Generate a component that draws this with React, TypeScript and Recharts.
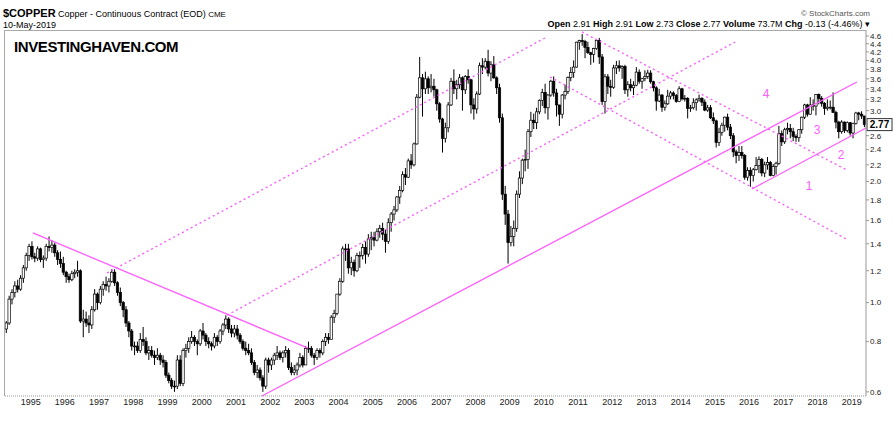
import React from 'react';
import { ComposedChart, Bar, XAxis, YAxis, ReferenceLine } from 'recharts';

// monthly candles, Apr 1994 .. May 2019
const opens = [
  0.86, 0.89, 1.02, 1.06, 1.10, 1.08, 1.15, 1.22, 1.31,
  1.38, 1.30, 1.29, 1.36, 1.28, 1.29, 1.38, 1.37, 1.39, 1.33, 1.28, 1.25,
  1.19, 1.16, 1.14, 1.18, 1.19, 1.20, 0.90, 0.91, 0.89, 0.88, 0.96, 1.05,
  1.00, 1.08, 1.11, 1.10, 1.13, 1.19, 1.12, 1.06, 1.00, 0.96, 0.89, 0.85,
  0.78, 0.78, 0.76, 0.81, 0.80, 0.75, 0.76, 0.74, 0.73, 0.74, 0.72, 0.71,
  0.66, 0.64, 0.62, 0.62, 0.72, 0.63, 0.76, 0.77, 0.80, 0.82, 0.80, 0.79,
  0.85, 0.83, 0.80, 0.79, 0.78, 0.82, 0.80, 0.85, 0.88, 0.91, 0.86, 0.84,
  0.86, 0.83, 0.80, 0.77, 0.76, 0.75, 0.71, 0.67, 0.68, 0.65, 0.62, 0.72,
  0.70, 0.72, 0.74, 0.75, 0.73, 0.75, 0.76, 0.69, 0.67, 0.68, 0.70, 0.73,
  0.70, 0.77, 0.77, 0.74, 0.73, 0.76, 0.75, 0.80, 0.82, 0.81, 0.92, 0.94,
  1.05, 1.13, 1.36, 1.36, 1.22, 1.26, 1.20, 1.31, 1.31, 1.37, 1.32, 1.44,
  1.45, 1.43, 1.50, 1.53, 1.48, 1.42, 1.58, 1.66, 1.70, 1.83, 1.90, 2.08,
  2.05, 2.25, 2.20, 2.48, 3.24, 3.62, 3.40, 3.60, 3.42, 3.45, 3.38, 3.12,
  2.86, 2.56, 2.72, 3.10, 3.55, 3.40, 3.48, 3.62, 3.38, 3.65, 3.58, 3.10,
  3.03, 3.30, 3.88, 3.85, 3.98, 3.72, 3.90, 3.62, 3.42, 2.88, 1.86, 1.66,
  1.41, 1.46, 1.53, 1.86, 2.04, 2.26, 2.27, 2.66, 2.84, 2.80, 2.98, 3.18,
  3.33, 3.05, 3.28, 3.55, 3.32, 3.10, 2.94, 3.28, 3.35, 3.63, 3.73, 3.85,
  4.44, 4.48, 4.46, 4.31, 4.18, 4.14, 4.28, 4.48, 4.08, 3.16, 3.64, 3.45,
  3.43, 3.83, 3.88, 3.83, 3.86, 3.38, 3.48, 3.42, 3.47, 3.74, 3.55, 3.61,
  3.65, 3.72, 3.54, 3.42, 3.17, 3.28, 3.06, 3.12, 3.26, 3.32, 3.27, 3.16,
  3.40, 3.21, 3.22, 3.04, 3.05, 3.14, 3.19, 3.22, 3.15, 3.01, 3.05, 2.88,
  2.83, 2.50, 2.65, 2.76, 2.89, 2.73, 2.60, 2.37, 2.32, 2.36, 2.32, 2.05,
  2.13, 2.07, 2.14, 2.19, 2.27, 2.10, 2.20, 2.23, 2.07, 2.18, 2.22, 2.63,
  2.51, 2.69, 2.71, 2.66, 2.59, 2.57, 2.69, 2.89, 3.10, 2.94, 3.10, 3.08,
  3.29, 3.22, 3.13, 3.04, 3.06, 3.06, 2.97, 2.81, 2.66, 2.81, 2.68, 2.80,
  2.64, 2.79, 2.96, 2.94, 2.91,
];

const highs = [
  0.90, 1.04, 1.08, 1.13, 1.14, 1.17, 1.24, 1.33, 1.40,
  1.42, 1.33, 1.38, 1.37, 1.31, 1.40, 1.46, 1.43, 1.41, 1.35, 1.34, 1.30,
  1.20, 1.18, 1.20, 1.21, 1.27, 1.21, 0.96, 0.95, 0.93, 0.98, 1.08, 1.06,
  1.10, 1.13, 1.16, 1.15, 1.21, 1.21, 1.13, 1.09, 1.01, 0.98, 0.90, 0.86,
  0.80, 0.80, 0.84, 0.87, 0.82, 0.78, 0.78, 0.76, 0.77, 0.75, 0.74, 0.72,
  0.67, 0.65, 0.64, 0.74, 0.74, 0.77, 0.79, 0.82, 0.85, 0.83, 0.81, 0.86,
  0.89, 0.84, 0.82, 0.80, 0.84, 0.83, 0.86, 0.89, 0.93, 0.92, 0.88, 0.88,
  0.88, 0.84, 0.81, 0.80, 0.79, 0.77, 0.72, 0.70, 0.69, 0.66, 0.73, 0.73,
  0.73, 0.75, 0.78, 0.76, 0.76, 0.78, 0.77, 0.71, 0.70, 0.71, 0.75, 0.74,
  0.78, 0.80, 0.78, 0.75, 0.77, 0.77, 0.81, 0.84, 0.84, 0.93, 0.96, 1.05,
  1.15, 1.38, 1.40, 1.40, 1.30, 1.28, 1.33, 1.34, 1.40, 1.42, 1.48, 1.50,
  1.50, 1.53, 1.56, 1.58, 1.52, 1.62, 1.68, 1.74, 1.84, 1.95, 2.12, 2.16,
  2.28, 2.34, 2.50, 3.30, 4.08, 3.70, 3.75, 3.65, 3.70, 3.60, 3.40, 3.15,
  2.88, 2.80, 3.15, 3.62, 3.80, 3.58, 3.70, 3.65, 3.68, 3.80, 3.60, 3.22,
  3.35, 3.95, 4.05, 4.05, 4.25, 3.98, 4.10, 3.65, 3.50, 2.95, 1.95, 1.70,
  1.55, 1.60, 1.90, 2.12, 2.28, 2.40, 2.70, 2.98, 2.95, 3.05, 3.20, 3.40,
  3.50, 3.30, 3.58, 3.65, 3.40, 3.10, 3.30, 3.48, 3.65, 3.85, 4.00, 4.45,
  4.50, 4.65, 4.50, 4.45, 4.20, 4.30, 4.52, 4.55, 4.15, 3.70, 3.70, 3.58,
  3.90, 3.99, 4.00, 3.89, 3.90, 3.55, 3.60, 3.55, 3.85, 3.80, 3.62, 3.78,
  3.79, 3.78, 3.56, 3.45, 3.40, 3.30, 3.18, 3.38, 3.36, 3.35, 3.30, 3.45,
  3.42, 3.28, 3.24, 3.10, 3.22, 3.22, 3.29, 3.24, 3.20, 3.10, 3.10, 2.97,
  2.85, 2.72, 2.80, 2.90, 2.95, 2.78, 2.64, 2.40, 2.45, 2.45, 2.34, 2.17,
  2.17, 2.16, 2.30, 2.31, 2.29, 2.24, 2.30, 2.25, 2.21, 2.24, 2.75, 2.68,
  2.72, 2.80, 2.78, 2.72, 2.62, 2.70, 2.90, 3.12, 3.12, 3.24, 3.20, 3.30,
  3.31, 3.26, 3.15, 3.20, 3.18, 3.33, 3.00, 2.83, 2.84, 2.82, 2.82, 2.81,
  2.80, 2.98, 2.98, 2.99, 2.91,
];

const lows = [
  0.84, 0.88, 0.99, 1.03, 1.06, 1.07, 1.12, 1.20, 1.27,
  1.28, 1.26, 1.27, 1.26, 1.22, 1.27, 1.34, 1.33, 1.30, 1.24, 1.22, 1.17,
  1.12, 1.12, 1.13, 1.15, 1.16, 0.89, 0.82, 0.87, 0.84, 0.86, 0.95, 0.96,
  0.99, 1.04, 1.07, 1.06, 1.12, 1.10, 1.04, 0.98, 0.92, 0.87, 0.82, 0.76,
  0.74, 0.75, 0.75, 0.78, 0.74, 0.72, 0.73, 0.70, 0.72, 0.70, 0.69, 0.65,
  0.63, 0.61, 0.60, 0.61, 0.62, 0.62, 0.73, 0.75, 0.79, 0.78, 0.74, 0.78,
  0.81, 0.78, 0.77, 0.76, 0.77, 0.78, 0.79, 0.83, 0.86, 0.84, 0.82, 0.82,
  0.81, 0.79, 0.76, 0.74, 0.74, 0.70, 0.66, 0.65, 0.64, 0.60, 0.61, 0.67,
  0.68, 0.70, 0.72, 0.72, 0.71, 0.73, 0.68, 0.66, 0.66, 0.66, 0.69, 0.69,
  0.70, 0.75, 0.73, 0.70, 0.72, 0.73, 0.74, 0.78, 0.79, 0.81, 0.89, 0.93,
  1.04, 1.12, 1.27, 1.18, 1.17, 1.16, 1.19, 1.22, 1.28, 1.25, 1.30, 1.35,
  1.38, 1.42, 1.45, 1.43, 1.33, 1.40, 1.50, 1.60, 1.68, 1.76, 1.88, 1.96,
  2.04, 2.15, 2.18, 2.47, 3.22, 2.90, 3.30, 3.30, 3.33, 3.25, 3.00, 2.80,
  2.36, 2.50, 2.65, 3.08, 3.30, 3.20, 3.40, 3.00, 3.30, 3.50, 2.95, 2.85,
  2.95, 3.28, 3.70, 3.80, 3.65, 3.55, 3.60, 3.30, 2.80, 1.80, 1.56, 1.25,
  1.38, 1.38, 1.50, 1.82, 1.97, 2.12, 2.15, 2.58, 2.70, 2.70, 2.94, 3.08,
  2.95, 2.85, 3.25, 3.25, 2.90, 2.75, 2.87, 3.20, 3.30, 3.55, 3.62, 3.84,
  4.25, 4.35, 4.05, 4.15, 3.90, 3.95, 4.25, 3.92, 3.10, 2.95, 3.30, 3.25,
  3.40, 3.70, 3.75, 3.60, 3.30, 3.25, 3.35, 3.28, 3.45, 3.50, 3.40, 3.55,
  3.60, 3.50, 3.35, 3.00, 3.15, 2.98, 3.00, 3.10, 3.20, 3.20, 3.14, 3.15,
  3.18, 3.16, 2.87, 2.98, 3.02, 3.00, 3.16, 3.08, 2.99, 2.98, 2.86, 2.78,
  2.43, 2.45, 2.60, 2.66, 2.68, 2.55, 2.30, 2.22, 2.25, 2.28, 2.02, 2.01,
  1.94, 2.00, 2.13, 2.10, 2.06, 2.05, 2.14, 2.06, 2.06, 2.08, 2.20, 2.45,
  2.48, 2.62, 2.56, 2.52, 2.51, 2.51, 2.63, 2.86, 2.90, 2.93, 3.00, 2.92,
  3.11, 3.07, 2.93, 3.00, 3.02, 2.96, 2.71, 2.56, 2.63, 2.64, 2.65, 2.60,
  2.56, 2.77, 2.84, 2.86, 2.73,
];

const closes = [
  0.89, 1.02, 1.06, 1.10, 1.08, 1.15, 1.22, 1.31, 1.38,
  1.30, 1.29, 1.36, 1.28, 1.29, 1.38, 1.37, 1.39, 1.33, 1.28, 1.25, 1.19,
  1.16, 1.14, 1.18, 1.19, 1.20, 0.90, 0.91, 0.89, 0.88, 0.96, 1.05, 1.00,
  1.08, 1.11, 1.10, 1.13, 1.19, 1.12, 1.06, 1.00, 0.96, 0.89, 0.85, 0.78,
  0.78, 0.76, 0.81, 0.80, 0.75, 0.76, 0.74, 0.73, 0.74, 0.72, 0.71, 0.66,
  0.64, 0.62, 0.62, 0.72, 0.63, 0.76, 0.77, 0.80, 0.82, 0.80, 0.79, 0.85,
  0.83, 0.80, 0.79, 0.78, 0.82, 0.80, 0.85, 0.88, 0.91, 0.86, 0.84, 0.86,
  0.83, 0.80, 0.77, 0.76, 0.75, 0.71, 0.67, 0.68, 0.65, 0.62, 0.72, 0.70,
  0.72, 0.74, 0.75, 0.73, 0.75, 0.76, 0.69, 0.67, 0.68, 0.70, 0.73, 0.70,
  0.77, 0.77, 0.74, 0.73, 0.76, 0.75, 0.80, 0.82, 0.81, 0.92, 0.94, 1.05,
  1.13, 1.36, 1.36, 1.22, 1.26, 1.20, 1.31, 1.31, 1.37, 1.32, 1.44, 1.45,
  1.43, 1.50, 1.53, 1.48, 1.42, 1.58, 1.66, 1.70, 1.83, 1.90, 2.08, 2.05,
  2.25, 2.20, 2.48, 3.24, 3.62, 3.40, 3.60, 3.42, 3.45, 3.38, 3.12, 2.86,
  2.56, 2.72, 3.10, 3.55, 3.40, 3.48, 3.62, 3.38, 3.65, 3.58, 3.10, 3.03,
  3.30, 3.88, 3.85, 3.98, 3.72, 3.90, 3.62, 3.42, 2.88, 1.86, 1.66, 1.41,
  1.46, 1.53, 1.86, 2.04, 2.26, 2.27, 2.66, 2.84, 2.80, 2.98, 3.18, 3.33,
  3.05, 3.28, 3.55, 3.32, 3.10, 2.94, 3.28, 3.35, 3.63, 3.73, 3.85, 4.44,
  4.48, 4.46, 4.31, 4.18, 4.14, 4.28, 4.48, 4.08, 3.16, 3.64, 3.45, 3.43,
  3.83, 3.88, 3.83, 3.86, 3.38, 3.48, 3.42, 3.47, 3.74, 3.55, 3.61, 3.65,
  3.72, 3.54, 3.42, 3.17, 3.28, 3.06, 3.12, 3.26, 3.32, 3.27, 3.16, 3.40,
  3.21, 3.22, 3.04, 3.05, 3.14, 3.19, 3.22, 3.15, 3.01, 3.05, 2.88, 2.83,
  2.50, 2.65, 2.76, 2.89, 2.73, 2.60, 2.37, 2.32, 2.36, 2.32, 2.05, 2.13,
  2.07, 2.14, 2.19, 2.27, 2.10, 2.20, 2.23, 2.07, 2.18, 2.22, 2.63, 2.51,
  2.69, 2.71, 2.66, 2.59, 2.57, 2.69, 2.89, 3.10, 2.94, 3.10, 3.08, 3.29,
  3.22, 3.13, 3.04, 3.06, 3.06, 2.97, 2.81, 2.66, 2.81, 2.68, 2.80, 2.64,
  2.79, 2.96, 2.94, 2.91, 2.77,
];

const years = [
  '1995', '1996', '1997', '1998', '1999', '2000', '2001', '2002', '2003',
  '2004', '2005', '2006', '2007', '2008', '2009', '2010', '2011', '2012',
  '2013', '2014', '2015', '2016', '2017', '2018', '2019',
];
const FIRST_JAN = 9; // Jan 1995 is the 10th candle

const priceTicks = [
  0.6, 0.8, 1.0, 1.2, 1.4, 1.6, 1.8, 2.0, 2.2, 2.4, 2.6,
  3.0, 3.2, 3.4, 3.6, 3.8, 4.0, 4.2, 4.4, 4.6,
];
const lastClose = 2.77;

// trendlines: [monthIndex, price] pairs
const solidLines = [
  [[9.3, 1.49], [105.8, 0.771]],
  [[89.6, 0.586], [298.3, 3.535]],
  [[261.5, 1.916], [301.5, 2.717]],
];
const dottedLines = [
  [[35.3, 1.185], [188.9, 4.547]],
  [[77.4, 0.931], [255.6, 4.444]],
  [[201.9, 4.706], [294.8, 2.136]],
  [[190.7, 3.637], [295.2, 1.431]],
];

const waveLabels = [
  { text: '4', x: 766, y: 95 },
  { text: '3', x: 817, y: 131 },
  { text: '2', x: 841, y: 156 },
  { text: '1', x: 809, y: 187 },
];

const PINK = '#ff5cff';
const FONT = "Arial, 'Liberation Sans', sans-serif";

const data = closes.map((c, i) => ({
  i,
  open: opens[i],
  high: highs[i],
  low: lows[i],
  close: c,
}));

const Candle = (props: any) => {
  const { x, y, width, height, payload } = props;
  if (x == null || y == null || !payload) return null;
  const top = Math.min(y, y + height);
  const h = Math.abs(height);
  const lh = Math.log(payload.high);
  const ll = Math.log(payload.low);
  const span = lh - ll || 1;
  const yOf = (v: number) => top + (h * (lh - Math.log(v))) / span;
  const cx = x + width / 2;
  const up = payload.close >= payload.open;
  const yo = yOf(payload.open);
  const yc = yOf(payload.close);
  const bt = Math.min(yo, yc);
  const bh = Math.max(Math.abs(yo - yc), 0.8);
  return (
    <g>
      <line x1={cx} x2={cx} y1={top} y2={top + h} stroke="#000" strokeWidth={1} />
      <rect
        x={cx - 1.2}
        y={bt}
        width={2.4}
        height={bh}
        fill={up ? '#fff' : '#000'}
        stroke="#000"
        strokeWidth={0.7}
      />
    </g>
  );
};

const LastLabel = (props: any) => {
  const { viewBox } = props;
  if (!viewBox) return null;
  const bx = viewBox.x + viewBox.width + 1;
  return (
    <g>
      <rect x={bx} y={viewBox.y - 6} width={25} height={12} fill="#fff" stroke="#333" strokeWidth={1} />
      <text x={bx + 12.5} y={viewBox.y + 3.5} textAnchor="middle" fontSize={10} fontWeight="bold" fontFamily={FONT} fill="#000">
        {lastClose.toFixed(2)}
      </text>
    </g>
  );
};

export default function App() {
  const yearTicks = years.map((_, k) => FIRST_JAN - 0.5 + 12 * k);

  return (
    <div style={{ position: 'absolute', left: 0, top: 0, width: 895, height: 421, background: '#fff', fontFamily: FONT }}>
      {/* header */}
      <div style={{ position: 'absolute', left: 3, top: 7, fontSize: 9, color: '#000', whiteSpace: 'nowrap' }}>
        <span style={{ fontWeight: 'bold', fontSize: 11 }}>$COPPER</span> Copper - Continuous Contract (EOD){' '}
        <span style={{ fontSize: 8 }}>CME</span>
      </div>
      <div style={{ position: 'absolute', left: 3, top: 20, fontSize: 9, color: '#000' }}>10-May-2019</div>
      <div style={{ position: 'absolute', right: 25, top: 9, fontSize: 8, color: '#555' }}>© StockCharts.com</div>
      <div style={{ position: 'absolute', right: 25, top: 19, fontSize: 9, color: '#000', whiteSpace: 'nowrap' }}>
        <b>Open</b> 2.91 <b>High</b> 2.91 <b>Low</b> 2.73 <b>Close</b> 2.77 <b>Volume</b> 73.7M <b>Chg</b> -0.13 (-4.46%) ▾
      </div>
      <div style={{ position: 'absolute', left: 4, top: 30, width: 862, height: 1, background: '#aaa' }} />
      <div style={{ position: 'absolute', left: 4, top: 30, width: 1, height: 366, background: '#aaa' }} />

      <ComposedChart
        width={895}
        height={421}
        data={data}
        margin={{ top: 30, right: 0, bottom: 5, left: 5 }}
        style={{ position: 'absolute', left: 0, top: 0 }}
      >
        <XAxis
          dataKey="i"
          type="number"
          domain={[-0.5, closes.length - 0.5]}
          allowDataOverflow
          ticks={yearTicks}
          interval={0}
          tickFormatter={(v: number) => years[Math.round((v - FIRST_JAN + 0.5) / 12)]}
          height={20}
          tickLine={false}
          tickSize={2}
          tickMargin={1}
          axisLine={{ stroke: '#999', strokeDasharray: '1 1' }}
          tick={{ fontSize: 9, fill: '#222', fontFamily: FONT }}
        />
        <YAxis
          orientation="right"
          scale="log"
          type="number"
          domain={[0.586, 4.76]}
          allowDataOverflow
          ticks={priceTicks}
          interval={0}
          tickFormatter={(v: number) => v.toFixed(1)}
          width={29}
          tickSize={3}
          tickMargin={1}
          axisLine={{ stroke: '#999' }}
          tickLine={{ stroke: '#999' }}
          tick={{ fontSize: 8, fill: '#222', fontFamily: FONT, textAnchor: 'start' }}
        />
        {solidLines.map((s, k) => (
          <ReferenceLine
            key={`s${k}`}
            segment={[{ x: s[0][0], y: s[0][1] }, { x: s[1][0], y: s[1][1] }]}
            stroke={PINK}
            strokeWidth={1.3}
            ifOverflow="visible"
          />
        ))}
        {dottedLines.map((s, k) => (
          <ReferenceLine
            key={`d${k}`}
            segment={[{ x: s[0][0], y: s[0][1] }, { x: s[1][0], y: s[1][1] }]}
            stroke={PINK}
            strokeWidth={1.4}
            strokeDasharray="2 3"
            ifOverflow="visible"
          />
        ))}
        <Bar
          dataKey={(d: any) => [d.low, d.high]}
          barSize={3}
          shape={<Candle />}
          isAnimationActive={false}
        />
        <ReferenceLine y={lastClose} stroke="none" label={<LastLabel />} />
      </ComposedChart>

      {/* header logo text */}
      <div
        style={{
          position: 'absolute',
          left: 14,
          top: 38,
          fontSize: 15,
          fontWeight: 'bold',
          letterSpacing: -0.4,
          color: '#000',
        }}
      >
        INVESTINGHAVEN.COM
      </div>
      {waveLabels.map((w) => (
        <div
          key={w.text}
          style={{
            position: 'absolute',
            left: w.x - 5,
            top: w.y - 8,
            width: 10,
            textAlign: 'center',
            fontSize: 12,
            color: PINK,
          }}
        >
          {w.text}
        </div>
      ))}
    </div>
  );
}
